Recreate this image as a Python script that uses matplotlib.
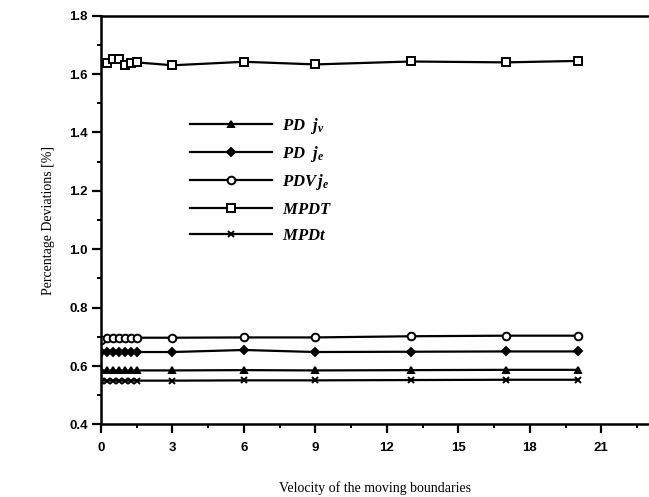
import numpy as np
import matplotlib.pyplot as plt
from matplotlib.ticker import MultipleLocator, FormatStrFormatter

plt.rcParams['mathtext.fontset'] = 'custom'
plt.rcParams['mathtext.it'] = 'Liberation Serif:italic:bold'
plt.rcParams['mathtext.rm'] = 'Liberation Serif:bold'

# velocity values
velocity = [0, 0.25, 0.5, 0.75, 1.0, 1.25, 1.5, 3, 6, 9, 13, 17, 20]

pd_jv = [0.585, 0.585, 0.585, 0.585, 0.585, 0.585, 0.585, 0.585, 0.586, 0.585, 0.586, 0.587, 0.587]
pd_je = [0.648, 0.648, 0.648, 0.648, 0.648, 0.648, 0.648, 0.648, 0.655, 0.648, 0.649, 0.650, 0.650]
pdv_je = [0.690, 0.695, 0.697, 0.697, 0.697, 0.697, 0.697, 0.697, 0.698, 0.698, 0.702, 0.704, 0.704]
mpdt_T = [1.638, 1.638, 1.652, 1.652, 1.630, 1.638, 1.640, 1.630, 1.642, 1.633, 1.643, 1.640, 1.645]
mpdt_t = [0.550, 0.550, 0.550, 0.550, 0.550, 0.550, 0.550, 0.550, 0.551, 0.551, 0.552, 0.553, 0.553]

labels = [r'$PD\ \ j_v$', r'$PD\ \ j_e$', r'$PDV\,j_e$', r'$MPDT$', r'$MPDt$']

fig = plt.figure(figsize=(6.49, 4.97), dpi=100)
ax = fig.add_axes([0.1556, 0.146, 0.8444, 0.8225])

kw = dict(color='black', lw=1.6, mec='black', mew=1.4)
h1, = ax.plot(velocity, pd_jv, marker='^', ms=5, mfc='black', **kw)
h2, = ax.plot(velocity, pd_je, marker='D', ms=4.5, mfc='black', **kw)
h3, = ax.plot(velocity, pdv_je, marker='o', ms=5.5, mfc='white', **kw)
h4, = ax.plot(velocity, mpdt_T, marker='s', ms=6, mfc='white', **kw)
h5, = ax.plot(velocity, mpdt_t, marker='x', ms=5, mfc='black', **kw)

ax.set_xlim(0, 23)
ax.set_ylim(0.4, 1.8)
ax.xaxis.set_major_locator(MultipleLocator(3))
ax.xaxis.set_minor_locator(MultipleLocator(1.5))
ax.yaxis.set_major_locator(MultipleLocator(0.2))
ax.yaxis.set_minor_locator(MultipleLocator(0.1))
ax.yaxis.set_major_formatter(FormatStrFormatter('%.1f'))

for s in ['left', 'bottom', 'top']:
    ax.spines[s].set_linewidth(1.8)
ax.spines['right'].set_visible(False)

ax.tick_params(which='major', length=6.5, width=1.6, labelsize=9.5, pad=3)
ax.tick_params(axis='x', which='major', pad=6)
ax.tick_params(which='minor', length=3, width=1.4)
for lab in ax.get_xticklabels() + ax.get_yticklabels():
    lab.set_fontfamily('Liberation Sans')
    lab.set_fontweight('bold')

ax.set_ylabel('Percentage Deviations [%]', family='Liberation Serif', fontsize=10, labelpad=10)
ax.set_xlabel('Velocity of the moving boundaries', family='Liberation Serif', fontsize=10, labelpad=20)

leg = ax.legend([h1, h2, h3, h4, h5], labels, loc='upper left',
                bbox_to_anchor=(0.15, 0.772), frameon=False, fontsize=12,
                handlelength=4.9, handletextpad=0.6, labelspacing=0.48,
                borderaxespad=0)

fig.savefig('out.png', dpi=100)
